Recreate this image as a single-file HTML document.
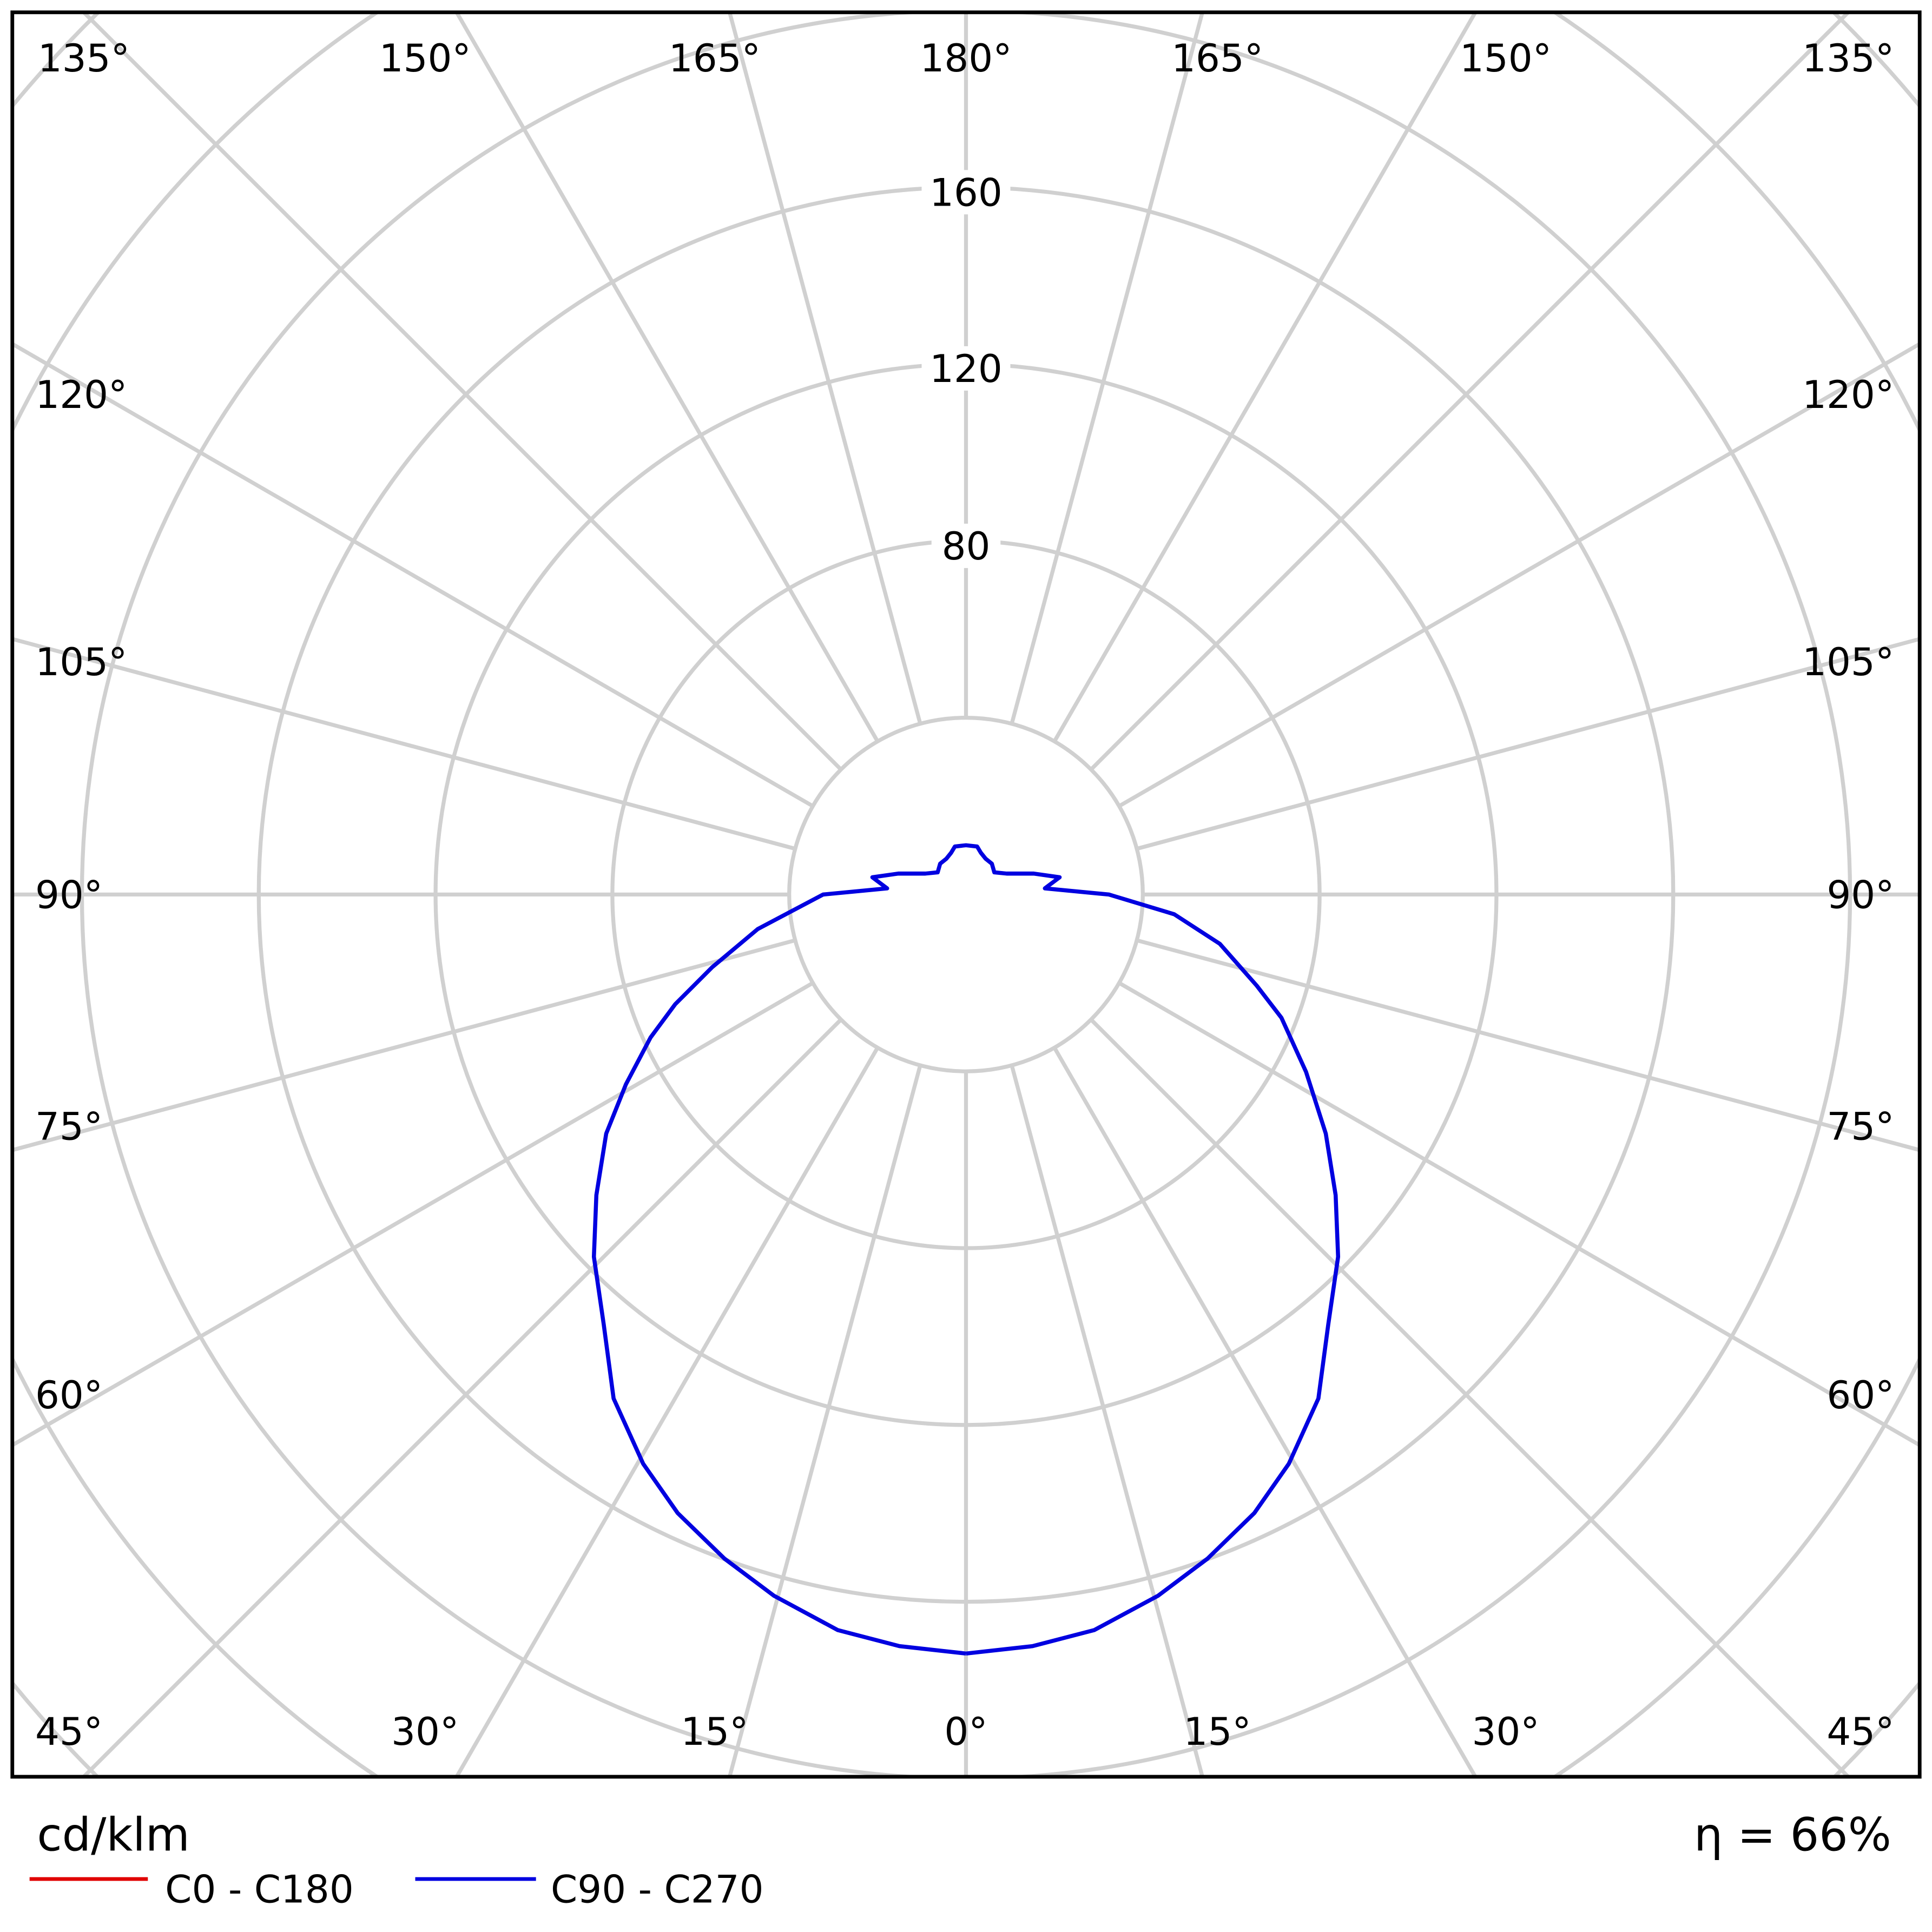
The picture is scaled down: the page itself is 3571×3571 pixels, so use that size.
<!DOCTYPE html>
<html><head><meta charset="utf-8"><style>html,body{margin:0;padding:0;background:#fff;overflow:hidden;width:3571px;height:3571px}svg{display:block}</style></head><body>
<svg width="3571" height="3571" viewBox="0 0 1568 1568" xmlns="http://www.w3.org/2000/svg" font-family="'DejaVu Sans','Liberation Sans',sans-serif">
<defs><clipPath id="c"><rect x="10" y="10" width="1548" height="1432"/></clipPath>
<line id="sp" x1="784" y1="869.5" x2="784" y2="1566"/>
<line id="sl" x1="784" y1="869.5" x2="784" y2="1786"/>
</defs>
<g clip-path="url(#c)" stroke="#d0d0d0" stroke-width="3.2" fill="none">
<circle cx="784" cy="726" r="143.5"/><circle cx="784" cy="726" r="287"/><circle cx="784" cy="726" r="430.5"/><circle cx="784" cy="726" r="574"/><circle cx="784" cy="726" r="717.5"/>
<path d="M10,349 A861,861 0 0 1 1558,349 M10,1103 A861,861 0 0 0 306,1442 M1262,1442 A861,861 0 0 0 1558,1103"/>
<path d="M10,86 A1004.5,1004.5 0 0 1 1558,86 M10,1366 A1004.5,1004.5 0 0 0 79,1442 M1489,1442 A1004.5,1004.5 0 0 0 1558,1366"/>
<line x1="784" y1="869.5" x2="784" y2="1442"/>
<use href="#sp" transform="rotate(15 784 726)"/><use href="#sp" transform="rotate(30 784 726)"/><use href="#sl" transform="rotate(45 784 726)"/><use href="#sl" transform="rotate(60 784 726)"/><use href="#sl" transform="rotate(75 784 726)"/><use href="#sl" transform="rotate(90 784 726)"/><use href="#sl" transform="rotate(105 784 726)"/><use href="#sl" transform="rotate(120 784 726)"/><use href="#sl" transform="rotate(135 784 726)"/><use href="#sl" transform="rotate(150 784 726)"/><use href="#sl" transform="rotate(165 784 726)"/><use href="#sl" transform="rotate(180 784 726)"/><use href="#sl" transform="rotate(195 784 726)"/><use href="#sl" transform="rotate(210 784 726)"/><use href="#sl" transform="rotate(225 784 726)"/><use href="#sl" transform="rotate(240 784 726)"/><use href="#sl" transform="rotate(255 784 726)"/><use href="#sl" transform="rotate(270 784 726)"/><use href="#sl" transform="rotate(285 784 726)"/><use href="#sl" transform="rotate(300 784 726)"/><use href="#sl" transform="rotate(315 784 726)"/><use href="#sp" transform="rotate(330 784 726)"/><use href="#sp" transform="rotate(345 784 726)"/>
</g>
<g font-size="31" text-anchor="middle" fill="#000">
<rect x="748" y="138" width="72" height="36" fill="#fff"/><text x="784" y="167">160</text>
<rect x="748" y="281" width="72" height="36" fill="#fff"/><text x="784" y="310">120</text>
<rect x="756" y="425" width="56" height="36" fill="#fff"/><text x="784" y="454">80</text>
<text x="68" y="58">135°</text><text x="345" y="58">150°</text><text x="580" y="58">165°</text><text x="784" y="58">180°</text><text x="988" y="58">165°</text><text x="1222" y="58">150°</text><text x="1500" y="58">135°</text>
<text x="66" y="331">120°</text><text x="1500" y="331">120°</text>
<text x="66" y="548">105°</text><text x="1500" y="548">105°</text>
<text x="56" y="737">90°</text><text x="1510" y="737">90°</text>
<text x="56" y="925">75°</text><text x="1510" y="925">75°</text>
<text x="56" y="1143">60°</text><text x="1510" y="1143">60°</text>
<text x="56" y="1416">45°</text><text x="345" y="1416">30°</text><text x="580" y="1416">15°</text><text x="784" y="1416">0°</text><text x="988" y="1416">15°</text><text x="1222" y="1416">30°</text><text x="1510" y="1416">45°</text>
</g>
<polyline fill="none" stroke="#0000e0" stroke-width="3.3" stroke-linejoin="round" points="784,1342 838,1336 888,1323 940,1295 980,1265 1018,1228 1046,1188 1070,1135 1078,1075 1086,1020 1084,970 1076,920 1060,870 1040,826 1020,800 990,766 953,742 900,726 848,721 860,712 839,709 817,709 807,708 805,701 800,697 796,692 793,687 784,686 775,687 772,692 768,697 763,701 761,708 751,709 729,709 708,712 720,721 668,726 615,754 578,785 548,815 528,842 508,880 492,920 484,970 482,1020 490,1075 498,1135 522,1188 550,1228 588,1265 628,1295 680,1323 730,1336 784,1342"/>
<rect x="10" y="10" width="1548" height="1432" fill="none" stroke="#000" stroke-width="3"/>
<text x="30" y="1502" font-size="37">cd/klm</text>
<text x="1535" y="1502" font-size="37" text-anchor="end">η = 66%</text>
<line x1="24" y1="1525" x2="120" y2="1525" stroke="#e00000" stroke-width="3"/>
<text x="134" y="1544" font-size="31">C0 - C180</text>
<line x1="337" y1="1525" x2="435" y2="1525" stroke="#0000e0" stroke-width="3"/>
<text x="447" y="1544" font-size="31">C90 - C270</text>
</svg>
</body></html>
